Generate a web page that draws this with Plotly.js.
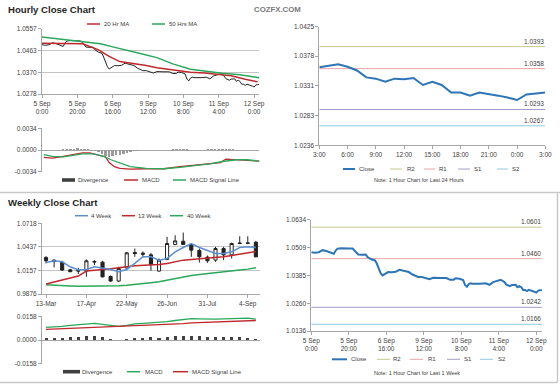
<!DOCTYPE html>
<html>
<head>
<meta charset="utf-8">
<script src="https://cdn.plot.ly/plotly-3.0.1.min.js"></script>
<style>html,body{margin:0;padding:0;background:#fff;}#chart{width:560px;height:386px;}</style>
</head>
<body>
<div id="chart"></div>
<script>
// ---------------- DATA ----------------
// Hourly close, last week (trading hours since 5 Sep 0:00, weekend skipped)
const closeHour = [0,2,4,6,8,10,12,13,14,16,18,20,22,23,25,27,29,30,32,34,35,36,37,38,39,41,43,45,47,48,50,52,54,55,57,59,61,63,65,67,69,72,74,76,77,79,81,82,83,84,85,86,88,90,93,95,97,99,100,101,102,103,104,105,106,107,108,109,110,111,112,113,114,115,116,117,118,119,120,121,122,123];
const closeVal  = [1.0489,1.0487,1.0489,1.0498,1.0494,1.0487,1.0482,1.0496,1.0505,1.0507,1.0505,1.0506,1.0505,1.0497,1.0479,1.0478,1.0479,1.0467,1.0457,1.0452,1.0437,1.0415,1.0395,1.0385,1.0390,1.0400,1.0399,1.0401,1.0410,1.0408,1.0403,1.0400,1.0389,1.0385,1.0378,1.0378,1.0374,1.0368,1.0374,1.0372,1.0373,1.0373,1.0366,1.0366,1.0372,1.0370,1.0364,1.0342,1.0334,1.0346,1.0350,1.0348,1.0347,1.0348,1.0350,1.0343,1.0355,1.0360,1.0363,1.0365,1.0361,1.0355,1.0344,1.0342,1.0337,1.0342,1.0341,1.0343,1.0332,1.0337,1.0332,1.0320,1.0320,1.0315,1.0320,1.0318,1.0315,1.0312,1.0308,1.0317,1.0318,1.0320];
const ma20Hour = [0,13,23,32,38,44,51,59,65,75,84,92,100,107,115,122];
const ma20Val  = [1.0496,1.0494,1.0493,1.0467,1.0439,1.0417,1.0410,1.0400,1.0391,1.0381,1.0371,1.0368,1.0363,1.0356,1.0341,1.0330];
const ma50Hour = [0,14,25,33,40,48,55,65,74,84,93,102,112,120,123];
const ma50Val  = [1.0522,1.0509,1.0500,1.0493,1.0480,1.0467,1.0453,1.0434,1.0407,1.0384,1.0374,1.0367,1.0360,1.0350,1.0348];
const macdHour = [1,6,12,18,23,27,31,36,38,41,44,50,59,69,78,87,95,101,104,110,116,121,123];
const macdVal  = [-0.00113,-0.00124,-0.00097,-0.00070,-0.00043,-0.00043,-0.00070,-0.00107,-0.00194,-0.00259,-0.00286,-0.00296,-0.00291,-0.00291,-0.00259,-0.00232,-0.00205,-0.00194,-0.00140,-0.00151,-0.00151,-0.00167,-0.00172];
const sigHour  = [1,6,12,18,23,29,35,39,44,50,59,69,78,87,95,102,110,116,121,123];
const sigVal   = [-0.00070,-0.00097,-0.00107,-0.00086,-0.00059,-0.00059,-0.00097,-0.00151,-0.00205,-0.00259,-0.00286,-0.00291,-0.00269,-0.00243,-0.00215,-0.00178,-0.00151,-0.00151,-0.00162,-0.00172];
const divHour  = [0,2,4,6,8,10,12,14,16,18,20,22,24,26,28,30,32,34,36,38,40,42,44,46,48,50,52,54,56,58,60,62,64,66,68,70,72,74,76,78,80,82,84,86,88,90,92,94,96,98,100,102,104,106,108,110,112,114,116,118,120,122];
const divVal   = [-0.0001,-0.0001,-0.00005,0.00003,0.00005,0.00005,0.0001,0.0001,0.00015,0.0002,0.00025,0.0002,0.00015,0.0001,0.00005,-0.0001,-0.0003,-0.0006,-0.0009,-0.0010,-0.0009,-0.0008,-0.0007,-0.0006,-0.0005,-0.0003,-0.0002,-0.0001,-0.00005,0.00003,0.00005,0.00005,0.00005,0.00003,0.00005,0.00005,0.00008,0.0001,0.0001,0.00012,0.00015,0.0001,0.00005,0.00005,0.00005,0.00005,0.00008,0.0001,0.0001,0.0001,0.00015,0.0002,0.0002,0.00015,0.0001,0.00005,0.00003,0.0,-0.00003,-0.00005,-0.00005,-0.00005];
const hourTickVals = [0,20,40,60,80,100,120];
const hourTickText = ["5 Sep<br>0:00","5 Sep<br>20:00","6 Sep<br>16:00","9 Sep<br>12:00","10 Sep<br>8:00","11 Sep<br>4:00","12 Sep<br>0:00"];
const hourYTicks = ["1.0278","1.0370","1.0463","1.0557"];
const macdHYTicks = ["-0.0034","0.0000","0.0034"];

// Last 24 hours chart
const dayStartHour = 99;
const dayTickVals = [0,3,6,9,12,15,18,21,24];
const dayTickText = ["3:00","6:00","9:00","12:00","15:00","18:00","21:00","0:00","3:00"];
const dayYTicks = ["1.0236","1.0283","1.0331","1.0378","1.0425"];
const dayLevelNames = ["R2","R1","S1","S2"];
const dayLevels = [1.0393,1.0358,1.0293,1.0267];
const dayLevelText = ["1.0393","1.0358","1.0293","1.0267"];

// Weekly candles
const weekNo = [0,1,2,3,4,5,6,7,8,9,10,11,12,13,14,15,16,17,18,19,20,21,22,23,24,25,26];
const wOpen  = [1.0311,1.0279,1.0255,1.0164,1.0157,1.0149,1.0255,1.0255,1.0085,1.0030,1.0185,1.0370,1.0362,1.0342,1.0149,1.0287,1.0465,1.0504,1.0465,1.0394,1.0315,1.0279,1.0417,1.0342,1.0484,1.0484,1.0492];
const wHigh  = [1.0326,1.0287,1.0271,1.0176,1.0188,1.0287,1.0279,1.0271,1.0097,1.0200,1.0378,1.0417,1.0382,1.0366,1.0299,1.0556,1.0575,1.0607,1.0477,1.0417,1.0334,1.0437,1.0437,1.0488,1.0563,1.0563,1.0508];
const wLow   = [1.0240,1.0192,1.0153,1.0137,1.0113,1.0082,1.0220,1.0074,1.0022,1.0018,1.0180,1.0319,1.0311,1.0153,1.0141,1.0279,1.0457,1.0461,1.0319,1.0251,1.0247,1.0259,1.0279,1.0299,1.0469,1.0469,1.0311];
const wClose = [1.0271,1.0263,1.0161,1.0141,1.0149,1.0271,1.0263,1.0080,1.0030,1.0180,1.0366,1.0358,1.0350,1.0228,1.0279,1.0477,1.0508,1.0465,1.0398,1.0319,1.0271,1.0417,1.0342,1.0477,1.0477,1.0480,1.0319];
const ma4w  = [1.0251,1.0271,1.0259,1.0200,1.0161,1.0168,1.0200,1.0184,1.0168,1.0141,1.0168,1.0240,1.0319,1.0319,1.0279,1.0299,1.0378,1.0429,1.0477,1.0429,1.0390,1.0358,1.0358,1.0378,1.0429,1.0437,1.0429];
const ma13w = [0.9995,1.0018,1.0042,1.0062,1.0089,1.0149,1.0161,1.0168,1.0176,1.0192,1.0200,1.0212,1.0216,1.0220,1.0228,1.0240,1.0259,1.0279,1.0287,1.0295,1.0299,1.0311,1.0319,1.0334,1.0350,1.0366,1.0382];
const ma40w = [0.9987,0.9979,0.9971,0.9971,0.9967,0.9967,0.9971,0.9971,0.9971,0.9975,0.9979,0.9987,0.9998,1.0010,1.0022,1.0042,1.0062,1.0082,1.0097,1.0109,1.0121,1.0129,1.0141,1.0149,1.0161,1.0172,1.0188];
const wMacd = [0.0085,0.0087,0.0092,0.0098,0.0103,0.0108,0.0112,0.0105,0.0096,0.0092,0.0098,0.0108,0.0112,0.0115,0.0117,0.0124,0.0131,0.0137,0.0144,0.0142,0.0140,0.0140,0.0142,0.0144,0.0147,0.0147,0.0140];
const wSig  = [0.0071,0.0073,0.0076,0.0078,0.0080,0.0082,0.0085,0.0087,0.0089,0.0089,0.0092,0.0094,0.0096,0.0098,0.0101,0.0103,0.0105,0.0110,0.0115,0.0117,0.0119,0.0121,0.0124,0.0126,0.0128,0.0131,0.0131];
const wDiv  = [0.0014,0.0014,0.0016,0.0020,0.0023,0.0026,0.0027,0.0018,0.0007,0.0003,0.0006,0.0014,0.0016,0.0017,0.0016,0.0021,0.0026,0.0027,0.0029,0.0025,0.0021,0.0019,0.0018,0.0018,0.0019,0.0016,0.0009];
const weekTickVals = [0,5,10,15,20,25];
const weekTickText = ["13-Mar","17-Apr","22-May","26-Jun","31-Jul","4-Sep"];
const weekYTicks = ["0.9876","1.0157","1.0437","1.0718"];
const macdWYTicks = ["-0.0158","0.0000","0.0158"];

// Last week (hourly) chart
const weekYTicks2 = ["1.0136","1.0260","1.0385","1.0509","1.0634"];
const wkLevels = [1.0601,1.0460,1.0242,1.0166];
const wkLevelText = ["1.0601","1.0460","1.0242","1.0166"];

// ---------------- STYLE / LAYOUT ----------------
const W = 560, H = 386;
const fx = p => p / W;
const fy = p => 1 - p / H;
const FONT = 'Liberation Sans, Arial, sans-serif';
const TXT = '#404040';
const AXC = '#a6a6a6';
const GRID = '#c4c4c4';
const RED = '#c0282e', GREEN = '#2aa85a', BLUE = '#5b8fcf', CLOSEBLUE = '#2e75b6';
const levelColors = ['#c8c890','#e8a4a4','#a59ac6','#8ccbe0'];

function axis(extra) {
  return Object.assign({
    showline: true, linecolor: AXC, linewidth: 1,
    ticks: 'outside', ticklen: 3, tickcolor: AXC, tickwidth: 1,
    tickfont: {family: FONT, size: 6.5, color: TXT},
    zeroline: false, showgrid: false, fixedrange: true, tickmode: 'array'
  }, extra);
}
const num = a => a.map(Number);

const dayX = [], dayY = [];
closeHour.forEach((h, i) => { if (h >= dayStartHour) { dayX.push(h - dayStartHour); dayY.push(closeVal[i]); } });

const traces = [
  // top-left hourly
  {type:'scatter', mode:'lines', x:closeHour, y:closeVal, xaxis:'x', yaxis:'y', line:{color:'#222', width:1}},
  {type:'scatter', mode:'lines', x:ma20Hour, y:ma20Val, xaxis:'x', yaxis:'y', line:{color:RED, width:1.5}},
  {type:'scatter', mode:'lines', x:ma50Hour, y:ma50Val, xaxis:'x', yaxis:'y', line:{color:GREEN, width:1.5}},
  // top-left MACD
  {type:'bar', x:divHour, y:divVal, xaxis:'x2', yaxis:'y2', width:1.4, marker:{color:'#9a9a9a', line:{width:0}}},
  {type:'scatter', mode:'lines', x:macdHour, y:macdVal, xaxis:'x2', yaxis:'y2', line:{color:RED, width:1.3}},
  {type:'scatter', mode:'lines', x:sigHour, y:sigVal, xaxis:'x2', yaxis:'y2', line:{color:GREEN, width:1.3}},
];
// top-right levels + close
dayLevels.forEach((lv, k) => traces.push({type:'scatter', mode:'lines', x:[dayTickVals[0], dayTickVals[dayTickVals.length-1]], y:[lv, lv], xaxis:'x3', yaxis:'y3', line:{color:levelColors[k], width:1}}));
traces.push({type:'scatter', mode:'lines', x:dayX, y:dayY, xaxis:'x3', yaxis:'y3', line:{color:CLOSEBLUE, width:2}});
// weekly candles + MAs
traces.push({type:'candlestick', x:weekNo, open:wOpen, high:wHigh, low:wLow, close:wClose, xaxis:'x4', yaxis:'y4',
  increasing:{line:{color:'#222', width:1}, fillcolor:'#ffffff'},
  decreasing:{line:{color:'#222', width:1}, fillcolor:'#222222'}, whiskerwidth:0});
traces.push({type:'scatter', mode:'lines', x:weekNo, y:ma40w, xaxis:'x4', yaxis:'y4', line:{color:GREEN, width:1.5}});
traces.push({type:'scatter', mode:'lines', x:weekNo, y:ma13w, xaxis:'x4', yaxis:'y4', line:{color:RED, width:1.5}});
traces.push({type:'scatter', mode:'lines', x:weekNo, y:ma4w, xaxis:'x4', yaxis:'y4', line:{color:BLUE, width:1.5}});
// weekly MACD
traces.push({type:'bar', x:weekNo, y:wDiv, xaxis:'x5', yaxis:'y5', width:0.38, marker:{color:'#404040', line:{width:0}}});
traces.push({type:'scatter', mode:'lines', x:weekNo, y:wMacd, xaxis:'x5', yaxis:'y5', line:{color:GREEN, width:1.3}});
traces.push({type:'scatter', mode:'lines', x:weekNo, y:wSig, xaxis:'x5', yaxis:'y5', line:{color:RED, width:1.3}});
// bottom-right levels + close
wkLevels.forEach((lv, k) => traces.push({type:'scatter', mode:'lines', x:[closeHour[0], closeHour[closeHour.length-1]], y:[lv, lv], xaxis:'x6', yaxis:'y6', line:{color:levelColors[k], width:1}}));
traces.push({type:'scatter', mode:'lines', x:closeHour, y:closeVal, xaxis:'x6', yaxis:'y6', line:{color:CLOSEBLUE, width:2}});

const shapes = [];
const annotations = [];
function text(px, py, t, opts) {
  annotations.push(Object.assign({xref:'paper', yref:'paper', x:fx(px), y:fy(py), text:t, showarrow:false,
    xanchor:'left', yanchor:'middle', borderpad:0, font:{family:FONT, size:6, color:TXT}}, opts || {}));
}
function legLine(x1, x2, y, color, w) {
  shapes.push({type:'line', xref:'paper', yref:'paper', x0:fx(x1), x1:fx(x2), y0:fy(y), y1:fy(y), line:{color:color, width:w || 1.5}});
}
function legBox(x1, x2, y, color) {
  shapes.push({type:'rect', xref:'paper', yref:'paper', x0:fx(x1), x1:fx(x2), y0:fy(y+1.8), y1:fy(y-1.8), fillcolor:color, line:{width:0}});
}

// titles
text(7, 9.5, '<b>Hourly Close Chart</b>', {font:{family:FONT, size:9.6, color:'#262626'}});
text(7, 202.5, '<b>Weekly Close Chart</b>', {font:{family:FONT, size:9.6, color:'#262626'}});
text(277, 9.5, '<b>COZFX.COM</b>', {xanchor:'center', font:{family:FONT, size:7.8, color:'#7a7a7a'}});

// top-left legend
legLine(87, 100, 24, RED); text(103, 24, '20 Hr MA');
legLine(152, 165, 24, GREEN); text(168, 24, '50 Hrs MA');
// top-left MACD legend
legBox(62, 75, 180, '#404040'); text(77, 180, 'Divergence');
legLine(124, 138, 180, RED); text(141, 180, 'MACD');
legLine(173, 186, 180, GREEN); text(189, 180, 'MACD Signal Line');
// top-right legend
legLine(343, 355, 169, CLOSEBLUE, 2); text(358, 169, 'Close');
legLine(390, 402, 169, levelColors[0], 1); text(406, 169, dayLevelNames[0]);
legLine(424, 435, 169, levelColors[1], 1); text(438, 169, dayLevelNames[1]);
legLine(458, 470, 169, levelColors[2], 1); text(473, 169, dayLevelNames[2]);
legLine(497, 508, 169, levelColors[3], 1); text(511, 169, dayLevelNames[3]);
text(419, 179.5, 'Note: 1 Hour Chart for Last 24 Hours', {xanchor:'center', font:{family:FONT, size:5.5, color:TXT}});
// weekly legend
legLine(75, 88, 215.7, BLUE); text(90, 215.7, '4 Week');
legLine(122, 135, 215.7, RED); text(137, 215.7, '13 Week');
legLine(170, 183, 215.7, GREEN); text(186, 215.7, '40 Week');
// weekly MACD legend
legBox(63, 80, 371.7, '#404040'); text(81, 371.7, 'Divergence');
legLine(127, 140, 371.7, GREEN); text(144, 371.7, 'MACD');
legLine(173, 188, 371.7, RED); text(191, 371.7, 'MACD Signal Line');
// bottom-right legend
legLine(332, 347, 359.3, CLOSEBLUE, 2); text(350, 359.3, 'Close');
legLine(377, 390, 359.3, levelColors[0], 1); text(392, 359.3, dayLevelNames[0]);
legLine(410, 423, 359.3, levelColors[1], 1); text(427, 359.3, dayLevelNames[1]);
legLine(447, 460, 359.3, levelColors[2], 1); text(463, 359.3, dayLevelNames[2]);
legLine(480, 493, 359.3, levelColors[3], 1); text(497, 359.3, dayLevelNames[3]);
text(417, 373.3, 'Note: 1 Hour Chart for Last 1 Week', {xanchor:'center', font:{family:FONT, size:5.5, color:TXT}});

// level labels
dayLevels.forEach((lv, k) => annotations.push({xref:'x3', yref:'y3', x:dayTickVals[dayTickVals.length-1], y:lv, text:dayLevelText[k],
  showarrow:false, xanchor:'right', yanchor:'bottom', yshift:1, borderpad:0, font:{family:FONT, size:6.5, color:TXT}}));
wkLevels.forEach((lv, k) => annotations.push({xref:'x6', yref:'y6', x:closeHour[closeHour.length-1], y:lv, text:wkLevelText[k],
  showarrow:false, xanchor:'right', yanchor:'bottom', yshift:1, borderpad:0, font:{family:FONT, size:6.5, color:TXT}}));

// separators
shapes.push({type:'line', xref:'paper', yref:'paper', x0:0, x1:1, y0:fy(192.5), y1:fy(192.5), line:{color:'#c8c8c8', width:1.5}});
shapes.push({type:'line', xref:'paper', yref:'paper', x0:0, x1:fx(557.5), y0:fy(382.5), y1:fy(382.5), line:{color:'#c8c8c8', width:1.5}});
shapes.push({type:'line', xref:'paper', yref:'paper', x0:fx(557.5), x1:fx(557.5), y0:fy(192.5), y1:fy(382.5), line:{color:'#c8c8c8', width:1.5}});

const layout = {
  width: W, height: H, margin: {l:0, r:0, t:0, b:0},
  paper_bgcolor: '#ffffff', plot_bgcolor: '#ffffff',
  showlegend: false, boxgap: 0.45, bargap: 0,
  font: {family: FONT, color: TXT},
  shapes: shapes, annotations: annotations,
  // top-left hourly
  xaxis: axis({domain:[fx(42), fx(259.4)], range:[0,123], tickvals:hourTickVals, ticktext:hourTickText, anchor:'y'}),
  yaxis: axis({domain:[fy(94), fy(28.8)], range:[1.0278,1.05575], tickvals:num(hourYTicks), ticktext:hourYTicks, showgrid:true, gridcolor:GRID, anchor:'x'}),
  // top-left MACD
  xaxis2: axis({domain:[fx(42), fx(259.4)], range:[0,123], showline:false, ticks:'', showticklabels:false, anchor:'y2'}),
  yaxis2: axis({domain:[fy(171.9), fy(128.2)], range:[-0.0034,0.00341], tickvals:num(macdHYTicks), ticktext:macdHYTicks, showgrid:true, gridcolor:GRID, zeroline:true, zerolinecolor:AXC, zerolinewidth:1, anchor:'x2'}),
  // top-right 24h
  xaxis3: axis({domain:[fx(319.3), fx(545.3)], range:[0,24], tickvals:dayTickVals, ticktext:dayTickText, anchor:'y3'}),
  yaxis3: axis({domain:[fy(145.3), fy(26.5)], range:[1.0236,1.0425], tickvals:num(dayYTicks), ticktext:dayYTicks, anchor:'x3'}),
  // weekly candles
  xaxis4: axis({domain:[fx(42), fx(259.9)], range:[-0.5,26.5], tickvals:weekTickVals, ticktext:weekTickText, anchor:'y4', rangeslider:{visible:false}}),
  yaxis4: axis({domain:[fy(294), fy(223.2)], range:[0.9876,1.07185], tickvals:num(weekYTicks), ticktext:weekYTicks, showgrid:true, gridcolor:GRID, anchor:'x4'}),
  // weekly MACD
  xaxis5: axis({domain:[fx(42), fx(259.9)], range:[-0.5,26.5], showline:false, ticks:'', showticklabels:false, anchor:'y5'}),
  yaxis5: axis({domain:[fy(363.6), fy(316.4)], range:[-0.0158,0.01585], tickvals:num(macdWYTicks), ticktext:macdWYTicks, showgrid:true, gridcolor:GRID, zeroline:true, zerolinecolor:AXC, zerolinewidth:1, anchor:'x5'}),
  // bottom-right last week
  xaxis6: axis({domain:[fx(311.3), fx(541.9)], range:[0,123], tickvals:hourTickVals, ticktext:hourTickText, anchor:'y6'}),
  yaxis6: axis({domain:[fy(331), fy(219.8)], range:[1.0136,1.0634], tickvals:num(weekYTicks2), ticktext:weekYTicks2, anchor:'x6'})
};

Plotly.newPlot('chart', traces, layout, {staticPlot:true, displayModeBar:false});
</script>
</body>
</html>
